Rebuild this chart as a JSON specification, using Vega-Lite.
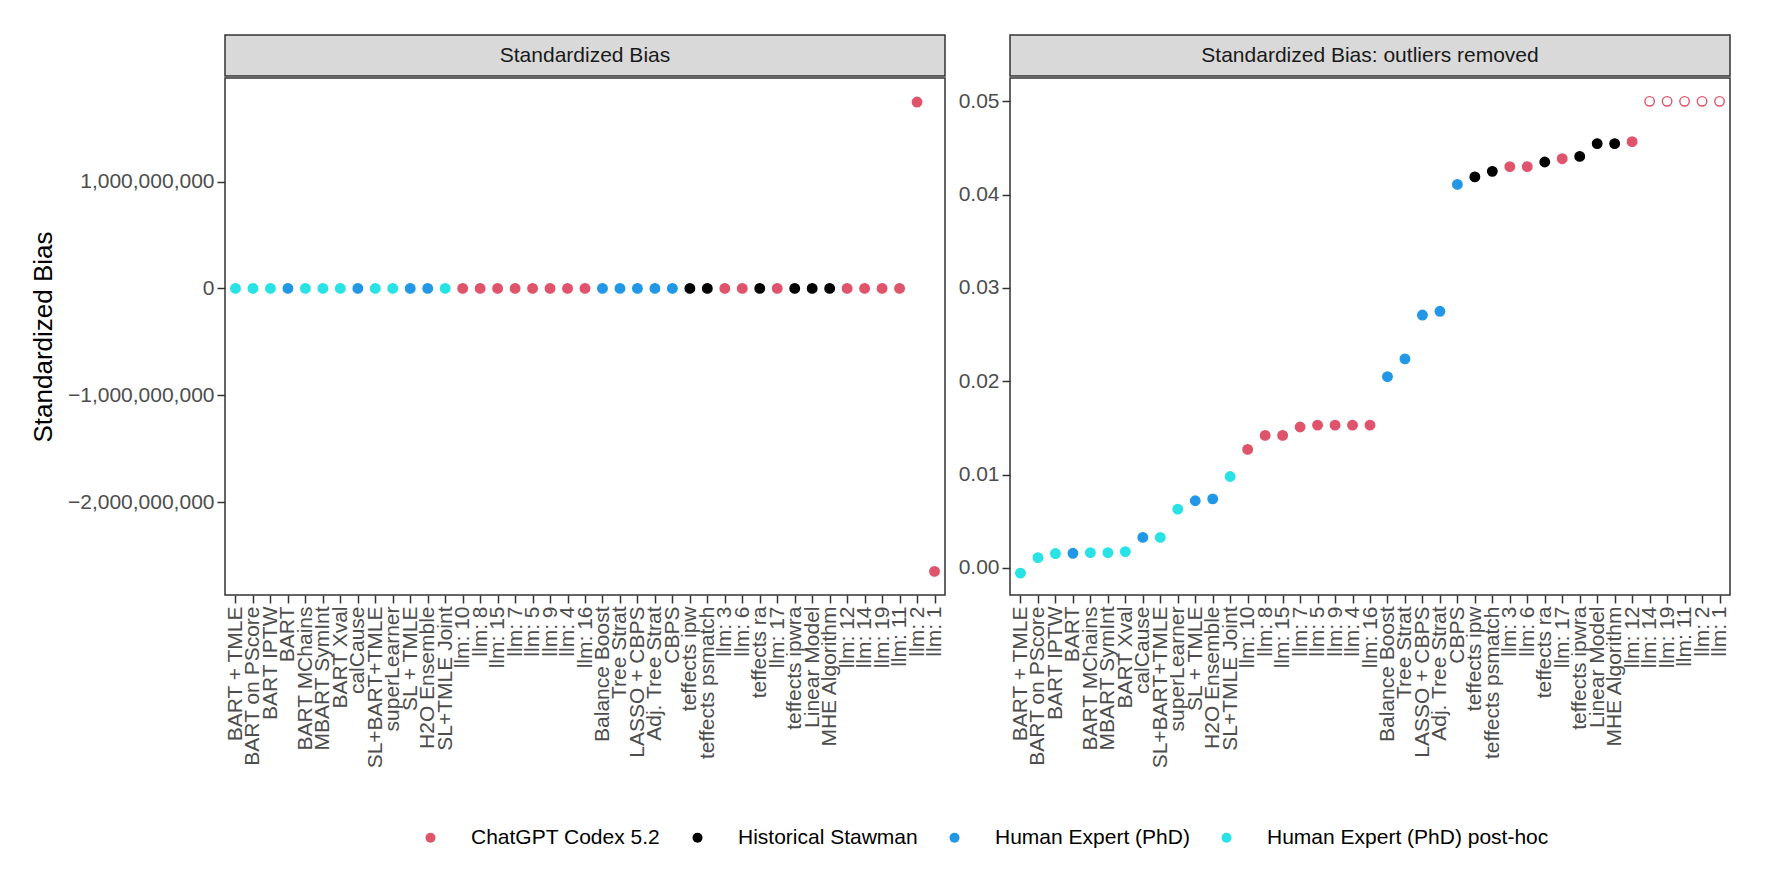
{
  "$schema": "https://vega.github.io/schema/vega-lite/v6.json",
  "background": "white",
  "padding": {"left": 29, "top": 34, "right": 40, "bottom": 20},
  "datasets": {
    "methods": [
      {"method": "BART + TMLE", "group": "Human Expert (PhD) post-hoc", "bias": -0.00055, "bias_trim": -0.00055, "outlier": false},
      {"method": "BART on PScore", "group": "Human Expert (PhD) post-hoc", "bias": 0.0011, "bias_trim": 0.0011, "outlier": false},
      {"method": "BART IPTW", "group": "Human Expert (PhD) post-hoc", "bias": 0.00154, "bias_trim": 0.00154, "outlier": false},
      {"method": "BART", "group": "Human Expert (PhD)", "bias": 0.00157, "bias_trim": 0.00157, "outlier": false},
      {"method": "BART MChains", "group": "Human Expert (PhD) post-hoc", "bias": 0.00164, "bias_trim": 0.00164, "outlier": false},
      {"method": "MBART SymInt", "group": "Human Expert (PhD) post-hoc", "bias": 0.00164, "bias_trim": 0.00164, "outlier": false},
      {"method": "BART Xval", "group": "Human Expert (PhD) post-hoc", "bias": 0.00175, "bias_trim": 0.00175, "outlier": false},
      {"method": "calCause", "group": "Human Expert (PhD)", "bias": 0.00327, "bias_trim": 0.00327, "outlier": false},
      {"method": "SL+BART+TMLE", "group": "Human Expert (PhD) post-hoc", "bias": 0.00327, "bias_trim": 0.00327, "outlier": false},
      {"method": "superLearner", "group": "Human Expert (PhD) post-hoc", "bias": 0.0063, "bias_trim": 0.0063, "outlier": false},
      {"method": "SL + TMLE", "group": "Human Expert (PhD)", "bias": 0.0072, "bias_trim": 0.0072, "outlier": false},
      {"method": "H2O Ensemble", "group": "Human Expert (PhD)", "bias": 0.0074, "bias_trim": 0.0074, "outlier": false},
      {"method": "SL+TMLE Joint", "group": "Human Expert (PhD) post-hoc", "bias": 0.0098, "bias_trim": 0.0098, "outlier": false},
      {"method": "llm: 10", "group": "ChatGPT Codex 5.2", "bias": 0.0127, "bias_trim": 0.0127, "outlier": false},
      {"method": "llm: 8", "group": "ChatGPT Codex 5.2", "bias": 0.0142, "bias_trim": 0.0142, "outlier": false},
      {"method": "llm: 15", "group": "ChatGPT Codex 5.2", "bias": 0.0142, "bias_trim": 0.0142, "outlier": false},
      {"method": "llm: 7", "group": "ChatGPT Codex 5.2", "bias": 0.0151, "bias_trim": 0.0151, "outlier": false},
      {"method": "llm: 5", "group": "ChatGPT Codex 5.2", "bias": 0.0153, "bias_trim": 0.0153, "outlier": false},
      {"method": "llm: 9", "group": "ChatGPT Codex 5.2", "bias": 0.0153, "bias_trim": 0.0153, "outlier": false},
      {"method": "llm: 4", "group": "ChatGPT Codex 5.2", "bias": 0.0153, "bias_trim": 0.0153, "outlier": false},
      {"method": "llm: 16", "group": "ChatGPT Codex 5.2", "bias": 0.0153, "bias_trim": 0.0153, "outlier": false},
      {"method": "Balance Boost", "group": "Human Expert (PhD)", "bias": 0.0205, "bias_trim": 0.0205, "outlier": false},
      {"method": "Tree Strat", "group": "Human Expert (PhD)", "bias": 0.0224, "bias_trim": 0.0224, "outlier": false},
      {"method": "LASSO + CBPS", "group": "Human Expert (PhD)", "bias": 0.0271, "bias_trim": 0.0271, "outlier": false},
      {"method": "Adj. Tree Strat", "group": "Human Expert (PhD)", "bias": 0.0275, "bias_trim": 0.0275, "outlier": false},
      {"method": "CBPS", "group": "Human Expert (PhD)", "bias": 0.0411, "bias_trim": 0.0411, "outlier": false},
      {"method": "teffects ipw", "group": "Historical Stawman", "bias": 0.0419, "bias_trim": 0.0419, "outlier": false},
      {"method": "teffects psmatch", "group": "Historical Stawman", "bias": 0.0425, "bias_trim": 0.0425, "outlier": false},
      {"method": "llm: 3", "group": "ChatGPT Codex 5.2", "bias": 0.043, "bias_trim": 0.043, "outlier": false},
      {"method": "llm: 6", "group": "ChatGPT Codex 5.2", "bias": 0.043, "bias_trim": 0.043, "outlier": false},
      {"method": "teffects ra", "group": "Historical Stawman", "bias": 0.0435, "bias_trim": 0.0435, "outlier": false},
      {"method": "llm: 17", "group": "ChatGPT Codex 5.2", "bias": 0.04385, "bias_trim": 0.04385, "outlier": false},
      {"method": "teffects ipwra", "group": "Historical Stawman", "bias": 0.0441, "bias_trim": 0.0441, "outlier": false},
      {"method": "Linear Model", "group": "Historical Stawman", "bias": 0.04547, "bias_trim": 0.04547, "outlier": false},
      {"method": "MHE Algorithm", "group": "Historical Stawman", "bias": 0.04547, "bias_trim": 0.04547, "outlier": false},
      {"method": "llm: 12", "group": "ChatGPT Codex 5.2", "bias": 0.04568, "bias_trim": 0.04568, "outlier": false},
      {"method": "llm: 14", "group": "ChatGPT Codex 5.2", "bias": 0.07, "bias_trim": 0.05, "outlier": true},
      {"method": "llm: 19", "group": "ChatGPT Codex 5.2", "bias": 0.12, "bias_trim": 0.05, "outlier": true},
      {"method": "llm: 11", "group": "ChatGPT Codex 5.2", "bias": 0.35, "bias_trim": 0.05, "outlier": true},
      {"method": "llm: 2", "group": "ChatGPT Codex 5.2", "bias": 1745000000, "bias_trim": 0.05, "outlier": true},
      {"method": "llm: 1", "group": "ChatGPT Codex 5.2", "bias": -2649000000, "bias_trim": 0.05, "outlier": true}
    ]
  },
  "data": {"name": "methods"},
  "spacing": 11,
  "hconcat": [
    {
      "spacing": 0,
      "vconcat": [
        {
          "width": 720, "height": 41,
          "data": {"values": [{"label": "Standardized Bias"}]},
          "view": {"fill": "#D9D9D9", "stroke": "#333333", "strokeWidth": 1.5},
          "mark": {"type": "text", "fontSize": 21, "font": "Liberation Sans", "color": "#1A1A1A"},
          "encoding": {"text": {"field": "label"}}
        },
        {
          "width": 720, "height": 517,
          "mark": {"type": "point", "shape": "circle", "size": 90, "strokeWidth": 1.4, "opacity": 1},
          "encoding": {
            "x": {"field": "method", "type": "nominal", "sort": null, "scale": {"padding": 0.6}, "axis": {"title": null}},
            "y": {
              "field": "bias", "type": "quantitative",
              "scale": {"domain": [-2870000000, 1970000000], "nice": false, "zero": false},
              "axis": {"title": "Standardized Bias", "values": [-2000000000, -1000000000, 0, 1000000000], "format": ",d"}
            },
            "fill": {
              "field": "group", "type": "nominal",
              "scale": {"domain": ["ChatGPT Codex 5.2", "Historical Stawman", "Human Expert (PhD)", "Human Expert (PhD) post-hoc"], "range": ["#DF536B", "#000000", "#2297E6", "#28E2E5"]},
              "legend": {"title": null, "orient": "none", "legendX": 195, "legendY": 792}
            },
            "stroke": {
              "field": "group", "type": "nominal",
              "scale": {"domain": ["ChatGPT Codex 5.2", "Historical Stawman", "Human Expert (PhD)", "Human Expert (PhD) post-hoc"], "range": ["#DF536B", "#000000", "#2297E6", "#28E2E5"]},
              "legend": null
            }
          }
        }
      ]
    },
    {
      "spacing": 0,
      "vconcat": [
        {
          "width": 720, "height": 41,
          "data": {"values": [{"label": "Standardized Bias: outliers removed"}]},
          "view": {"fill": "#D9D9D9", "stroke": "#333333", "strokeWidth": 1.5},
          "mark": {"type": "text", "fontSize": 21, "font": "Liberation Sans", "color": "#1A1A1A"},
          "encoding": {"text": {"field": "label"}}
        },
        {
          "width": 720, "height": 517,
          "mark": {"type": "point", "shape": "circle", "size": 90, "strokeWidth": 1.4, "opacity": 1},
          "encoding": {
            "x": {"field": "method", "type": "nominal", "sort": null, "scale": {"padding": 0.6}, "axis": {"title": null}},
            "y": {
              "field": "bias_trim", "type": "quantitative",
              "scale": {"domain": [-0.0029, 0.0525], "nice": false, "zero": false},
              "axis": {"title": null, "values": [0, 0.01, 0.02, 0.03, 0.04, 0.05], "format": ".2f"}
            },
            "fill": {
              "field": "group", "type": "nominal",
              "condition": {"test": "datum.outlier", "value": "white"},
              "legend": {"title": null, "orient": "none", "legendX": 195, "legendY": 792}
            },
            "stroke": {"field": "group", "type": "nominal", "legend": null}
          }
        }
      ]
    }
  ],
  "config": {
    "font": "Liberation Sans",
    "view": {"stroke": "#333333", "strokeWidth": 1.5},
    "axis": {
      "domain": false, "grid": false,
      "labelFont": "Liberation Sans", "labelFontSize": 21, "labelColor": "#4D4D4D", "labelPadding": 4,
      "tickColor": "#333333", "tickSize": 8, "tickWidth": 1.5,
      "titleFont": "Liberation Sans", "titleFontSize": 26, "titleFontWeight": "normal", "titleColor": "#000000", "titlePadding": 11
    },
    "axisX": {"labelAngle": -90, "labelLimit": 400, "labelPadding": 3},
    "axisY": {"labelPadding": 3},
    "legend": {
      "direction": "horizontal",
      "labelFont": "Liberation Sans", "labelFontSize": 21, "labelColor": "#000000", "labelLimit": 0,
      "symbolType": "circle", "symbolSize": 100, "symbolStrokeWidth": 0,
      "labelOffset": 30, "columnPadding": 26
    }
  }
}
